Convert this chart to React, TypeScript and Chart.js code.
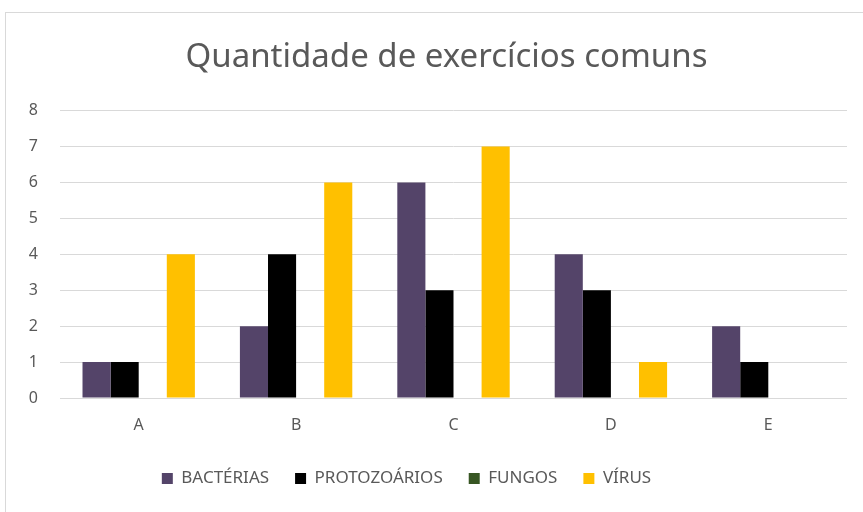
import React, { useEffect, useRef } from "react";
import { Chart, registerables } from "chart.js";

Chart.register(...registerables);

const categories = ["A", "B", "C", "D", "E"];
const seriesNames = ["BACTÉRIAS", "PROTOZOÁRIOS", "FUNGOS", "VÍRUS"];
const bacterias = [1, 2, 6, 4, 2];
const protozoarios = [1, 4, 3, 3, 1];
const fungos = [0, 0, 0, 0, 0];
const virus = [4, 6, 7, 1, 0];
const colors = ["#544469", "#000000", "#375623", "#FFC000"];

const FONT = "'Noto Sans', sans-serif";
const TEXT = "#595959";

export default function App() {
  const ref = useRef<HTMLCanvasElement>(null);
  useEffect(() => {
    document.body.style.margin = "0";
    const boxShift = {
      id: "boxShift",
      afterLayout(chart: any) {
        if (chart.legend) {
          chart.legend.left -= 17;
          chart.legend.right -= 17;
        }
        if (chart.titleBlock) {
          chart.titleBlock.left += 23;
          chart.titleBlock.right += 23;
        }
      },
    };
    const values = [bacterias, protozoarios, fungos, virus];
    const chart = new Chart(ref.current!, {
      type: "bar",
      data: {
        labels: categories,
        datasets: seriesNames.map((n, i) => ({
          label: n,
          data: values[i],
          backgroundColor: colors[i],
          borderWidth: 0,
          categoryPercentage: 0.714,
          barPercentage: 1,
        })),
      },
      plugins: [boxShift],
      options: {
        animation: false,
        responsive: false,
        maintainAspectRatio: false,
        layout: { padding: { left: 0, right: 16, top: 0, bottom: 15 } },
        plugins: {
          title: {
            display: true,
            text: "Quantidade de exercícios comuns",
            color: TEXT,
            font: { family: FONT, size: 33, weight: "normal" },
            padding: { top: 38, bottom: 33 },
          },
          legend: {
            position: "bottom",
            labels: {
              color: TEXT,
              font: { family: FONT, size: 17 },
              boxWidth: 11,
              boxHeight: 11,
              padding: 26,
            },
          },
          tooltip: { enabled: false },
        },
        scales: {
          x: {
            grid: { display: false, drawTicks: false },
            border: { display: false },
            ticks: { color: TEXT, font: { family: FONT, size: 16 }, padding: 18 },
            afterFit(scale: any) {
              scale.height = 46;
            },
          },
          y: {
            min: 0,
            max: 8,
            grid: { color: "#d9d9d9", lineWidth: 1, drawTicks: false },
            border: { display: false },
            ticks: { stepSize: 1, color: TEXT, font: { family: FONT, size: 16 }, padding: 22 },
            afterFit(scale: any) {
              scale.width = 60;
            },
          },
        },
      },
    });
    return () => chart.destroy();
  }, []);
  return (
    <div style={{ position: "fixed", left: 0, top: 0, width: 863, height: 512, background: "#fff", overflow: "hidden" }}>
      <div
        style={{
          position: "absolute",
          left: 5,
          top: 12,
          width: 900,
          height: 600,
          border: "1px solid #d9d9d9",
          boxSizing: "border-box",
        }}
      />
      <canvas ref={ref} width={863} height={512} style={{ position: "absolute", left: 0, top: 0 }} />
    </div>
  );
}
